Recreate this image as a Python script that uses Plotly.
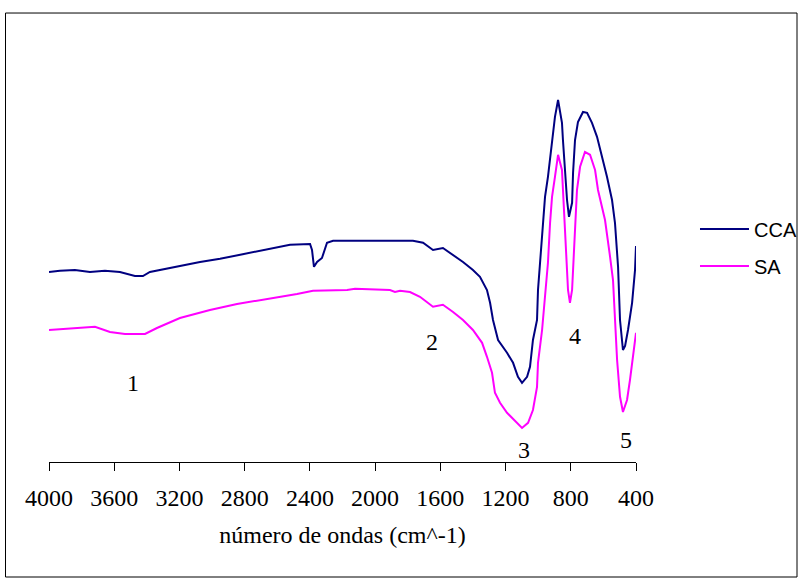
import plotly.graph_objects as go

# Wavenumber (cm^-1) and relative transmittance (arbitrary units)
cca_wn = [4000, 3933, 3841, 3749, 3657, 3565, 3473, 3424, 3381, 3289, 3197, 3074, 2951, 2829,
          2706, 2614, 2522, 2399, 2387, 2375, 2356, 2326, 2295, 2258, 1768, 1706, 1645, 1584,
          1522, 1461, 1400, 1357, 1314, 1295, 1277, 1246, 1191, 1154, 1124, 1099, 1068, 1050,
          1032, 1007, 1001, 989, 976, 970, 958, 940, 915, 897, 878, 866, 854, 848, 835, 823,
          811, 792, 786, 774, 756, 725, 700, 670, 639, 608, 578, 547, 529, 510, 498, 480, 467,
          449, 424, 406, 400]
cca_t = [47.5, 47.8, 48.0, 47.5, 47.8, 47.5, 46.5, 46.5, 47.5, 48.3, 49.0, 50.0, 50.8, 51.8,
         52.8, 53.5, 54.3, 54.5, 53.0, 48.8, 50.0, 51.0, 54.8, 55.3, 55.3, 54.8, 53.0, 53.5,
         51.8, 50.0, 48.0, 46.3, 43.0, 39.8, 35.5, 30.5, 27.3, 24.8, 21.3, 19.8, 21.3, 23.8,
         30.5, 35.5, 43.0, 49.8, 54.8, 60.0, 66.3, 71.3, 80.5, 86.3, 90.5, 87.0, 84.8, 80.5,
         72.3, 65.5, 61.3, 64.8, 72.3, 80.5, 85.0, 87.5, 87.3, 84.8, 81.3, 76.3, 71.3, 65.5,
         59.8, 48.8, 35.5, 28.0, 29.0, 33.0, 39.8, 48.0, 54.0]

sa_wn = [4000, 3914, 3718, 3626, 3534, 3411, 3338, 3197, 3013, 2847, 2645, 2479, 2381, 2172,
         2123, 1909, 1878, 1847, 1786, 1725, 1645, 1584, 1522, 1461, 1400, 1344, 1314, 1283,
         1265, 1234, 1191, 1130, 1099, 1062, 1032, 1007, 1001, 976, 958, 940, 927, 915, 897,
         878, 854, 848, 835, 823, 817, 805, 792, 786, 774, 762, 743, 713, 682, 651, 633, 608,
         590, 559, 541, 516, 498, 480, 455, 437, 418, 400]
sa_t = [33.0, 33.3, 33.8, 32.5, 32.0, 32.0, 33.5, 36.0, 38.0, 39.5, 40.8, 42.0, 42.8, 43.0,
        43.3, 43.0, 42.5, 42.8, 42.5, 41.3, 38.8, 39.3, 37.5, 35.5, 33.0, 29.8, 26.3, 22.3,
        17.3, 14.8, 12.3, 9.8, 8.5, 9.8, 13.0, 18.8, 24.8, 33.0, 41.3, 49.8, 59.8, 66.3, 71.3,
        76.8, 73.0, 68.0, 59.8, 48.0, 43.0, 39.8, 43.0, 48.0, 59.8, 68.0, 73.8, 77.5, 76.8,
        73.0, 68.0, 63.8, 60.5, 51.3, 45.5, 25.5, 16.3, 12.5, 15.5, 20.5, 27.3, 32.3]

tick_vals = [4000, 3600, 3200, 2800, 2400, 2000, 1600, 1200, 800, 400]
band_labels = ["1", "2", "3", "4", "5"]
band_wn = [3485, 1651, 1087, 774, 461]
band_t = [19.75, 30.0, 3.0, 31.5, 5.5]

serif = "Liberation Serif, Times New Roman, serif"
sans = "Liberation Sans, Arial, sans-serif"

fig = go.Figure()
fig.add_trace(go.Scatter(x=cca_wn, y=cca_t, mode="lines", name="CCA", legendgroup="a",
                         line=dict(color="#000080", width=2)))
fig.add_trace(go.Scatter(x=sa_wn, y=sa_t, mode="lines", name="SA", legendgroup="b",
                         line=dict(color="#FF00FF", width=2)))

for lab, xw, yt in zip(band_labels, band_wn, band_t):
    fig.add_annotation(x=xw, y=yt, text=lab, showarrow=False,
                       font=dict(family=serif, size=24, color="black"))

# outer frame
fig.add_shape(type="rect", xref="paper", yref="paper",
              x0=-0.0741, x1=1.2743, y0=-0.2608, y1=1.0181,
              line=dict(color="black", width=1), fillcolor="rgba(0,0,0,0)")

fig.update_layout(
    width=802, height=581,
    margin=dict(l=49, r=166, t=21, b=119, autoexpand=False),
    paper_bgcolor="white", plot_bgcolor="white",
    showlegend=True,
    hovermode=False,
    legend=dict(x=1.1005, y=0.5726, xanchor="left", yanchor="top",
                font=dict(family=sans, size=20, color="black"),
                tracegroupgap=8, bgcolor="rgba(0,0,0,0)", itemwidth=49),
    xaxis=dict(range=[4000, 400], tickvals=tick_vals, ticktext=[str(v) for v in tick_vals],
               showline=True, linecolor="black", linewidth=1, ticks="outside",
               ticklen=8, tickcolor="black", showgrid=False, zeroline=False,
               ticklabelstandoff=6,
               tickfont=dict(family=serif, size=24, color="black"),
               title=dict(text="número de ondas (cm^-1)", standoff=16,
                          font=dict(family=serif, size=24, color="black"))),
    yaxis=dict(range=[0, 110.25], visible=False, showgrid=False, zeroline=False),
)

fig.write_html("out.html", config={"displayModeBar": False},
               post_script="document.body.style.margin='0';document.body.style.overflow='hidden';")
